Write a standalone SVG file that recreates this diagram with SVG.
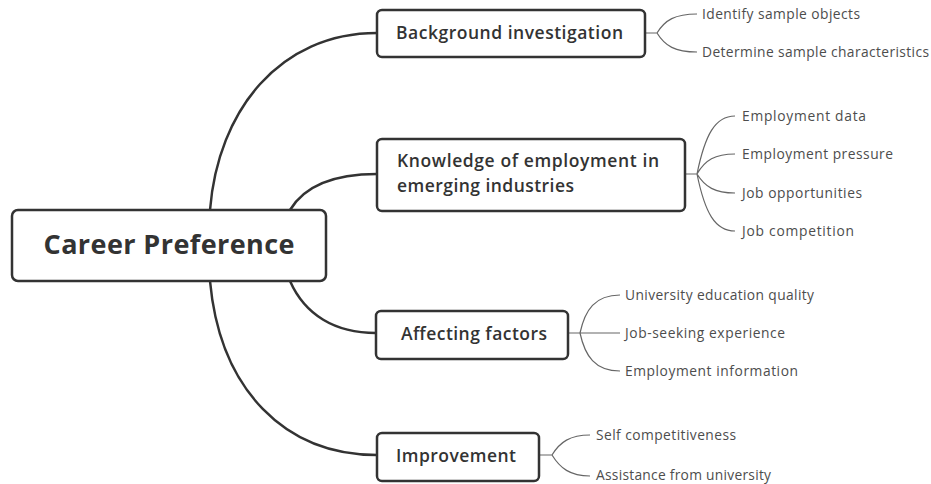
<svg xmlns="http://www.w3.org/2000/svg" width="931" height="484" viewBox="0 0 931 484">
  <style>
    .box { fill: #ffffff; stroke: #333333; stroke-width: 2.5; }
    .main { stroke: #333333; stroke-width: 2.5; fill: none; }
    .sub { stroke: #666666; stroke-width: 1.2; fill: none; }
    .root-t { font-family: "Open Sans", "DejaVu Sans", sans-serif; font-weight: 700; font-size: 27px; fill: #333333; }
    .topic-t { font-family: "Open Sans", "DejaVu Sans", sans-serif; font-weight: 600; font-size: 17.5px; fill: #333333; }
    .leaf-t { font-family: "Open Sans", "DejaVu Sans", sans-serif; font-size: 13.8px; fill: #4d4d4d; }
  </style>
  <rect width="931" height="484" fill="#ffffff"/>

  <!-- connectors -->
  <g id="connectors">
    <path class="main" d="M210,210 C218,110 280,33 377,33"/>
    <path class="main" d="M290,210 C305,185 335,174 377,174"/>
    <path class="main" d="M290,281 C305,315 335,333 376,333"/>
    <path class="main" d="M210,281 C220,390 285,455 377,455"/>

    <path class="sub" d="M645,33 H657 M657,33 C665,20 675,14 697,14 M657,33 C665,46 675,52 697,52"/>
    <path class="sub" d="M685,174 H697 M697,174 C705,135 715,116 735,116 M697,174 C705,160 715,154 735,154 M697,174 C705,187 715,193 735,193 M697,174 C705,213 715,231 735,231"/>
    <path class="sub" d="M568,333 H620 M580,333 C585,310 595,295 620,295 M580,333 C585,356 595,371 620,371"/>
    <path class="sub" d="M539,455 H552 M552,455 C560,442 570,435 590,435 M552,455 C560,468 570,476 590,476"/>
  </g>

  <g id="root">
    <rect class="box" x="12" y="210" width="314" height="71" rx="6"/>
    <text class="root-t" x="169" y="254" text-anchor="middle" textLength="251">Career Preference</text>
  </g>

  <g id="background">
    <rect class="box" x="377" y="10" width="268" height="47" rx="5"/>
    <text class="topic-t" x="396" y="39" textLength="227">Background investigation</text>
  </g>
  <g id="background-leaves">
    <text class="leaf-t" x="702" y="19" textLength="158">Identify sample objects</text>
    <text class="leaf-t" x="702" y="57" textLength="227">Determine sample characteristics</text>
  </g>

  <g id="knowledge">
    <rect class="box" x="377" y="139" width="308" height="72" rx="5"/>
    <text class="topic-t" x="397" y="167" textLength="262">Knowledge of employment in</text>
    <text class="topic-t" x="397" y="192" textLength="177">emerging industries</text>
  </g>
  <g id="knowledge-leaves">
    <text class="leaf-t" x="742" y="121" textLength="124">Employment data</text>
    <text class="leaf-t" x="742" y="159" textLength="151">Employment pressure</text>
    <text class="leaf-t" x="742" y="198" textLength="120">Job opportunities</text>
    <text class="leaf-t" x="742" y="236" textLength="112">Job competition</text>
  </g>

  <g id="affecting">
    <rect class="box" x="376" y="311" width="192" height="48" rx="5"/>
    <text class="topic-t" x="401" y="340" textLength="146">Affecting factors</text>
  </g>
  <g id="affecting-leaves">
    <text class="leaf-t" x="625" y="300" textLength="189">University education quality</text>
    <text class="leaf-t" x="625" y="338" textLength="160">Job-seeking experience</text>
    <text class="leaf-t" x="625" y="376" textLength="173">Employment information</text>
  </g>

  <g id="improvement">
    <rect class="box" x="377" y="433" width="162" height="48" rx="5"/>
    <text class="topic-t" x="396" y="462" textLength="120">Improvement</text>
  </g>
  <g id="improvement-leaves">
    <text class="leaf-t" x="596" y="440" textLength="140">Self competitiveness</text>
    <text class="leaf-t" x="596" y="480" textLength="175">Assistance from university</text>
  </g>
</svg>
